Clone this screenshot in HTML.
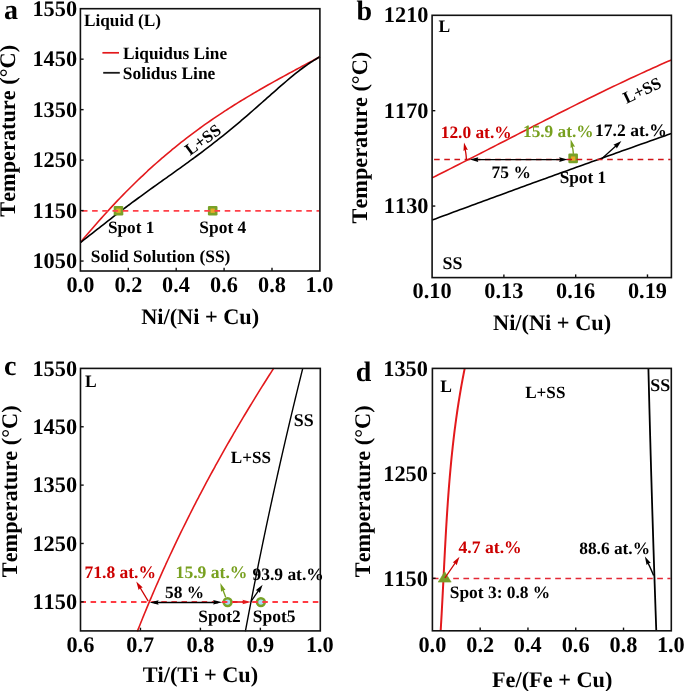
<!DOCTYPE html>
<html><head><meta charset="utf-8"><style>
html,body{margin:0;padding:0;background:#fff;}
svg{display:block;will-change:transform;}
text{font-family:"Liberation Serif", serif;font-weight:bold;font-kerning:none;text-rendering:geometricPrecision;}
</style></head><body>
<svg width="685" height="691" viewBox="0 0 685 691">
<rect width="685" height="691" fill="#fff"/>
<path d="M80.40,242.49 C80.91,241.89 82.42,240.07 83.43,238.86 C84.44,237.66 85.45,236.46 86.46,235.27 C87.47,234.08 88.48,232.89 89.49,231.71 C90.51,230.54 91.52,229.36 92.53,228.20 C93.54,227.03 94.55,225.87 95.56,224.71 C96.57,223.56 97.58,222.41 98.59,221.27 C99.60,220.13 100.61,218.99 101.62,217.86 C102.63,216.74 103.64,215.61 104.65,214.50 C105.66,213.38 106.67,212.27 107.68,211.17 C108.70,210.07 109.71,208.97 110.72,207.88 C111.73,206.79 112.74,205.71 113.75,204.63 C114.76,203.55 115.77,202.48 116.78,201.42 C117.79,200.35 118.80,199.30 119.81,198.25 C120.82,197.20 121.83,196.15 122.84,195.11 C123.85,194.08 124.86,193.05 125.87,192.02 C126.89,191.00 127.90,189.98 128.91,188.97 C129.92,187.96 130.93,186.95 131.94,185.95 C132.95,184.96 133.96,183.96 134.97,182.98 C135.98,181.99 136.99,181.01 138.00,180.04 C139.01,179.07 140.02,178.10 141.03,177.15 C142.04,176.19 143.05,175.23 144.06,174.29 C145.08,173.34 146.09,172.40 147.10,171.47 C148.11,170.53 149.12,169.61 150.13,168.69 C151.14,167.77 152.15,166.85 153.16,165.94 C154.17,165.03 155.18,164.13 156.19,163.24 C157.20,162.34 158.21,161.45 159.22,160.57 C160.23,159.69 161.24,158.81 162.25,157.94 C163.26,157.07 164.28,156.20 165.29,155.34 C166.30,154.48 167.31,153.63 168.32,152.78 C169.33,151.94 170.34,151.10 171.35,150.26 C172.36,149.43 173.37,148.60 174.38,147.77 C175.39,146.95 176.40,146.13 177.41,145.32 C178.42,144.51 179.43,143.70 180.44,142.90 C181.45,142.10 182.47,141.31 183.48,140.52 C184.49,139.73 185.50,138.95 186.51,138.17 C187.52,137.39 188.53,136.62 189.54,135.85 C190.55,135.08 191.56,134.32 192.57,133.56 C193.58,132.80 194.59,132.05 195.60,131.31 C196.61,130.56 197.62,129.82 198.63,129.08 C199.64,128.35 200.66,127.62 201.67,126.89 C202.68,126.16 203.69,125.44 204.70,124.72 C205.71,124.01 206.72,123.30 207.73,122.59 C208.74,121.88 209.75,121.18 210.76,120.48 C211.77,119.78 212.78,119.09 213.79,118.40 C214.80,117.71 215.81,117.03 216.82,116.35 C217.83,115.67 218.85,114.99 219.86,114.32 C220.87,113.65 221.88,112.98 222.89,112.32 C223.90,111.66 224.91,111.00 225.92,110.34 C226.93,109.69 227.94,109.04 228.95,108.39 C229.96,107.74 230.97,107.10 231.98,106.46 C232.99,105.82 234.00,105.19 235.01,104.55 C236.02,103.92 237.04,103.29 238.05,102.67 C239.06,102.04 240.07,101.42 241.08,100.80 C242.09,100.18 243.10,99.57 244.11,98.95 C245.12,98.34 246.13,97.73 247.14,97.13 C248.15,96.52 249.16,95.92 250.17,95.32 C251.18,94.72 252.19,94.12 253.20,93.53 C254.21,92.93 255.22,92.34 256.24,91.75 C257.25,91.16 258.26,90.58 259.27,89.99 C260.28,89.41 261.29,88.83 262.30,88.25 C263.31,87.67 264.32,87.09 265.33,86.52 C266.34,85.94 267.35,85.37 268.36,84.80 C269.37,84.23 270.38,83.66 271.39,83.09 C272.40,82.53 273.41,81.96 274.43,81.40 C275.44,80.84 276.45,80.28 277.46,79.72 C278.47,79.16 279.48,78.60 280.49,78.04 C281.50,77.49 282.51,76.93 283.52,76.38 C284.53,75.82 285.54,75.27 286.55,74.72 C287.56,74.17 288.57,73.62 289.58,73.07 C290.59,72.52 291.60,71.98 292.62,71.43 C293.63,70.88 294.64,70.34 295.65,69.79 C296.66,69.25 297.67,68.70 298.68,68.16 C299.69,67.62 300.70,67.07 301.71,66.53 C302.72,65.99 303.73,65.45 304.74,64.91 C305.75,64.36 306.76,63.82 307.77,63.28 C308.78,62.74 309.79,62.20 310.81,61.66 C311.82,61.12 312.83,60.58 313.84,60.04 C314.85,59.50 315.86,58.96 316.87,58.42 C317.88,57.88 319.39,57.07 319.90,56.80" stroke="#e3191c" stroke-width="1.6" fill="none" />
<path d="M80.40,242.50 C80.91,242.11 82.42,240.94 83.43,240.15 C84.44,239.37 85.45,238.58 86.46,237.79 C87.47,237.00 88.48,236.21 89.49,235.42 C90.51,234.63 91.52,233.84 92.53,233.04 C93.54,232.25 94.55,231.46 95.56,230.66 C96.57,229.87 97.58,229.08 98.59,228.29 C99.60,227.49 100.61,226.70 101.62,225.91 C102.63,225.12 103.64,224.33 104.65,223.54 C105.66,222.75 106.67,221.97 107.68,221.18 C108.70,220.40 109.71,219.61 110.72,218.83 C111.73,218.05 112.74,217.27 113.75,216.49 C114.76,215.71 115.77,214.94 116.78,214.17 C117.79,213.39 118.80,212.62 119.81,211.85 C120.82,211.08 121.83,210.32 122.84,209.55 C123.85,208.79 124.86,208.02 125.87,207.26 C126.89,206.50 127.90,205.75 128.91,204.99 C129.92,204.24 130.93,203.48 131.94,202.73 C132.95,201.98 133.96,201.23 134.97,200.49 C135.98,199.74 136.99,199.00 138.00,198.26 C139.01,197.52 140.02,196.78 141.03,196.04 C142.04,195.30 143.05,194.56 144.06,193.83 C145.08,193.10 146.09,192.36 147.10,191.63 C148.11,190.90 149.12,190.17 150.13,189.45 C151.14,188.72 152.15,187.99 153.16,187.27 C154.17,186.54 155.18,185.82 156.19,185.10 C157.20,184.37 158.21,183.65 159.22,182.93 C160.23,182.21 161.24,181.49 162.25,180.77 C163.26,180.05 164.28,179.33 165.29,178.61 C166.30,177.89 167.31,177.17 168.32,176.45 C169.33,175.73 170.34,175.01 171.35,174.29 C172.36,173.57 173.37,172.85 174.38,172.13 C175.39,171.40 176.40,170.68 177.41,169.96 C178.42,169.23 179.43,168.51 180.44,167.78 C181.45,167.06 182.47,166.33 183.48,165.60 C184.49,164.87 185.50,164.14 186.51,163.41 C187.52,162.68 188.53,161.94 189.54,161.21 C190.55,160.47 191.56,159.73 192.57,158.99 C193.58,158.25 194.59,157.50 195.60,156.76 C196.61,156.01 197.62,155.26 198.63,154.51 C199.64,153.76 200.66,153.00 201.67,152.24 C202.68,151.48 203.69,150.72 204.70,149.96 C205.71,149.19 206.72,148.42 207.73,147.65 C208.74,146.88 209.75,146.10 210.76,145.32 C211.77,144.54 212.78,143.76 213.79,142.97 C214.80,142.19 215.81,141.40 216.82,140.60 C217.83,139.81 218.85,139.01 219.86,138.20 C220.87,137.40 221.88,136.59 222.89,135.78 C223.90,134.97 224.91,134.15 225.92,133.33 C226.93,132.51 227.94,131.69 228.95,130.86 C229.96,130.03 230.97,129.20 231.98,128.37 C232.99,127.53 234.00,126.69 235.01,125.85 C236.02,125.00 237.04,124.15 238.05,123.30 C239.06,122.45 240.07,121.59 241.08,120.73 C242.09,119.87 243.10,119.01 244.11,118.14 C245.12,117.28 246.13,116.41 247.14,115.53 C248.15,114.66 249.16,113.79 250.17,112.91 C251.18,112.03 252.19,111.15 253.20,110.26 C254.21,109.38 255.22,108.49 256.24,107.60 C257.25,106.71 258.26,105.82 259.27,104.93 C260.28,104.04 261.29,103.15 262.30,102.25 C263.31,101.36 264.32,100.46 265.33,99.57 C266.34,98.67 267.35,97.78 268.36,96.88 C269.37,95.99 270.38,95.09 271.39,94.20 C272.40,93.31 273.41,92.42 274.43,91.53 C275.44,90.64 276.45,89.75 277.46,88.86 C278.47,87.98 279.48,87.10 280.49,86.22 C281.50,85.34 282.51,84.47 283.52,83.60 C284.53,82.73 285.54,81.87 286.55,81.01 C287.56,80.15 288.57,79.30 289.58,78.45 C290.59,77.61 291.60,76.77 292.62,75.94 C293.63,75.12 294.64,74.30 295.65,73.49 C296.66,72.68 297.67,71.88 298.68,71.09 C299.69,70.30 300.70,69.52 301.71,68.76 C302.72,68.00 303.73,67.25 304.74,66.51 C305.75,65.78 306.76,65.05 307.77,64.35 C308.78,63.64 309.79,62.95 310.81,62.29 C311.82,61.62 312.83,60.96 313.84,60.33 C314.85,59.70 315.86,59.09 316.87,58.50 C317.88,57.91 319.39,57.08 319.90,56.80" stroke="#000" stroke-width="1.6" fill="none" />
<rect x="113.70" y="205.90" width="9.60" height="9.60" fill="#78a228" rx="1.2"/>
<rect x="207.90" y="205.90" width="9.60" height="9.60" fill="#78a228" rx="1.2"/>
<rect x="116.35" y="208.55" width="4.30" height="4.30" fill="#e8a828"/>
<rect x="210.55" y="208.55" width="4.30" height="4.30" fill="#e8a828"/>
<line x1="81.90" y1="210.90" x2="319.10" y2="210.90" stroke="#ff4048" stroke-width="1.7" stroke-dasharray="5.6 4.6"/>
<rect x="80.40" y="8.70" width="239.50" height="262.30" fill="none" stroke="#111" stroke-width="1.6"/>
<text x="32.45" y="16.01" font-size="22.3" fill="#000" text-anchor="start" >1550</text>
<line x1="80.40" y1="59.17" x2="83.60" y2="59.17" stroke="#111" stroke-width="1.4" />
<text x="32.45" y="66.48" font-size="22.3" fill="#000" text-anchor="start" >1450</text>
<line x1="80.40" y1="109.64" x2="83.60" y2="109.64" stroke="#111" stroke-width="1.4" />
<text x="32.45" y="116.95" font-size="22.3" fill="#000" text-anchor="start" >1350</text>
<line x1="80.40" y1="160.11" x2="83.60" y2="160.11" stroke="#111" stroke-width="1.4" />
<text x="32.45" y="167.42" font-size="22.3" fill="#000" text-anchor="start" >1250</text>
<line x1="80.40" y1="210.58" x2="83.60" y2="210.58" stroke="#111" stroke-width="1.4" />
<text x="32.45" y="217.89" font-size="22.3" fill="#000" text-anchor="start" >1150</text>
<line x1="80.40" y1="261.05" x2="83.60" y2="261.05" stroke="#111" stroke-width="1.4" />
<text x="32.45" y="268.36" font-size="22.3" fill="#000" text-anchor="start" >1050</text>
<text x="66.46" y="292.40" font-size="22.3" fill="#000" text-anchor="start" >0.0</text>
<line x1="128.30" y1="271.00" x2="128.30" y2="267.80" stroke="#111" stroke-width="1.4" />
<text x="114.42" y="292.40" font-size="22.3" fill="#000" text-anchor="start" >0.2</text>
<line x1="176.20" y1="271.00" x2="176.20" y2="267.80" stroke="#111" stroke-width="1.4" />
<text x="162.04" y="292.40" font-size="22.3" fill="#000" text-anchor="start" >0.4</text>
<line x1="224.10" y1="271.00" x2="224.10" y2="267.80" stroke="#111" stroke-width="1.4" />
<text x="210.06" y="292.40" font-size="22.3" fill="#000" text-anchor="start" >0.6</text>
<line x1="272.00" y1="271.00" x2="272.00" y2="267.80" stroke="#111" stroke-width="1.4" />
<text x="258.01" y="292.40" font-size="22.3" fill="#000" text-anchor="start" >0.8</text>
<text x="305.49" y="292.40" font-size="22.3" fill="#000" text-anchor="start" >1.0</text>
<text x="141.17" y="323.80" font-size="22.3" fill="#000" text-anchor="start" >Ni/(Ni + Cu)</text>
<text transform="translate(15.30,216.65) rotate(-90)" x="0" y="0" font-size="22.3">Temperature (°C)</text>
<text x="4.10" y="19.30" font-size="28" fill="#000" text-anchor="start" >a</text>
<text x="84.01" y="25.60" font-size="17.22" fill="#000" text-anchor="start" >Liquid (L)</text>
<line x1="102.40" y1="52.80" x2="119.00" y2="52.80" stroke="#e3191c" stroke-width="1.7" />
<line x1="103.20" y1="72.80" x2="119.80" y2="72.80" stroke="#1a1a1a" stroke-width="1.8" />
<text x="123.00" y="59.30" font-size="17.27" fill="#000" text-anchor="start" >Liquidus Line</text>
<text x="122.77" y="78.80" font-size="17.44" fill="#000" text-anchor="start" >Solidus Line</text>
<text transform="translate(190.00,156.00) rotate(-36)" x="0" y="0" font-size="17.0" fill="#000">L+SS</text>
<text x="107.98" y="232.60" font-size="17.22" fill="#000" text-anchor="start" >Spot 1</text>
<text x="199.37" y="232.60" font-size="17.42" fill="#000" text-anchor="start" >Spot 4</text>
<text x="90.87" y="261.90" font-size="17.44" fill="#000" text-anchor="start" >Solid Solution (SS)</text>
<path d="M432.10,177.90 C433.12,177.39 436.19,175.85 438.24,174.83 C440.28,173.80 442.33,172.77 444.37,171.74 C446.42,170.71 448.46,169.68 450.51,168.64 C452.55,167.61 454.60,166.57 456.64,165.53 C458.69,164.50 460.73,163.46 462.78,162.41 C464.82,161.37 466.87,160.33 468.92,159.29 C470.96,158.24 473.01,157.20 475.05,156.15 C477.10,155.11 479.14,154.06 481.19,153.01 C483.23,151.97 485.28,150.92 487.32,149.87 C489.37,148.82 491.41,147.77 493.46,146.72 C495.50,145.67 497.55,144.62 499.59,143.57 C501.64,142.52 503.69,141.47 505.73,140.42 C507.78,139.37 509.82,138.32 511.87,137.27 C513.91,136.22 515.96,135.18 518.00,134.13 C520.05,133.08 522.09,132.03 524.14,130.98 C526.18,129.94 528.23,128.89 530.27,127.84 C532.32,126.80 534.36,125.75 536.41,124.71 C538.46,123.67 540.50,122.63 542.55,121.59 C544.59,120.55 546.64,119.51 548.68,118.47 C550.73,117.43 552.77,116.40 554.82,115.36 C556.86,114.33 558.91,113.30 560.95,112.27 C563.00,111.24 565.04,110.21 567.09,109.18 C569.14,108.16 571.18,107.13 573.23,106.11 C575.27,105.09 577.32,104.07 579.36,103.06 C581.41,102.04 583.45,101.03 585.50,100.02 C587.54,99.01 589.59,98.00 591.63,97.00 C593.68,95.99 595.72,94.99 597.77,93.99 C599.81,93.00 601.86,92.00 603.91,91.01 C605.95,90.02 608.00,89.03 610.04,88.05 C612.09,87.07 614.13,86.09 616.18,85.11 C618.22,84.14 620.27,83.16 622.31,82.20 C624.36,81.23 626.40,80.27 628.45,79.31 C630.49,78.35 632.54,77.39 634.58,76.45 C636.63,75.50 638.68,74.55 640.72,73.61 C642.77,72.67 644.81,71.74 646.86,70.81 C648.90,69.88 650.95,68.95 652.99,68.03 C655.04,67.11 657.08,66.20 659.13,65.29 C661.17,64.38 663.22,63.47 665.26,62.58 C667.31,61.68 670.38,60.35 671.40,59.90" stroke="#e3191c" stroke-width="1.6" fill="none" />
<path d="M432.10,220.09 C433.12,219.71 436.19,218.57 438.24,217.81 C440.28,217.05 442.33,216.29 444.37,215.54 C446.42,214.78 448.46,214.02 450.51,213.26 C452.55,212.50 454.60,211.75 456.64,210.99 C458.69,210.23 460.73,209.48 462.78,208.72 C464.82,207.97 466.87,207.21 468.92,206.46 C470.96,205.70 473.01,204.95 475.05,204.19 C477.10,203.44 479.14,202.69 481.19,201.94 C483.23,201.18 485.28,200.43 487.32,199.68 C489.37,198.93 491.41,198.18 493.46,197.43 C495.50,196.68 497.55,195.93 499.59,195.18 C501.64,194.43 503.69,193.68 505.73,192.93 C507.78,192.18 509.82,191.44 511.87,190.69 C513.91,189.94 515.96,189.20 518.00,188.45 C520.05,187.70 522.09,186.96 524.14,186.21 C526.18,185.47 528.23,184.72 530.27,183.98 C532.32,183.24 534.36,182.49 536.41,181.75 C538.46,181.01 540.50,180.27 542.55,179.52 C544.59,178.78 546.64,178.04 548.68,177.30 C550.73,176.56 552.77,175.82 554.82,175.08 C556.86,174.34 558.91,173.60 560.95,172.86 C563.00,172.12 565.04,171.39 567.09,170.65 C569.14,169.91 571.18,169.17 573.23,168.44 C575.27,167.70 577.32,166.97 579.36,166.23 C581.41,165.49 583.45,164.76 585.50,164.03 C587.54,163.29 589.59,162.56 591.63,161.82 C593.68,161.09 595.72,160.36 597.77,159.63 C599.81,158.89 601.86,158.16 603.91,157.43 C605.95,156.70 608.00,155.97 610.04,155.24 C612.09,154.51 614.13,153.78 616.18,153.05 C618.22,152.32 620.27,151.59 622.31,150.86 C624.36,150.14 626.40,149.41 628.45,148.68 C630.49,147.96 632.54,147.23 634.58,146.50 C636.63,145.78 638.68,145.05 640.72,144.33 C642.77,143.60 644.81,142.88 646.86,142.15 C648.90,141.43 650.95,140.71 652.99,139.99 C655.04,139.26 657.08,138.54 659.13,137.82 C661.17,137.10 663.22,136.38 665.26,135.66 C667.31,134.94 670.38,133.86 671.40,133.50" stroke="#000" stroke-width="1.6" fill="none" />
<rect x="568.35" y="153.60" width="9.60" height="9.60" fill="#78a228" rx="1.2"/>
<rect x="571.05" y="156.45" width="4.30" height="4.30" fill="#e8a828"/>
<line x1="434.10" y1="159.60" x2="670.60" y2="159.60" stroke="#d01418" stroke-width="1.5" stroke-dasharray="5.6 4.58"/>
<line x1="474.00" y1="159.60" x2="562.00" y2="159.60" stroke="#000" stroke-width="1.3" />
<path d="M469.80,159.60 L478.30,157.20 L477.45,159.60 L478.30,162.00 Z" fill="#000"/>
<path d="M567.70,159.60 L559.20,162.00 L560.05,159.60 L559.20,157.20 Z" fill="#000"/>
<path d="M466.40,159.30 Q466.00,152.00 464.81,148.08" stroke="#cc0000" stroke-width="1.3" fill="none" />
<path d="M464.00,142.40 L467.88,149.97 L465.51,149.62 L463.47,150.89 Z" fill="#cc0000"/>
<path d="M573.40,153.90 Q573.00,148.00 571.71,145.04" stroke="#78a020" stroke-width="1.3" fill="none" />
<path d="M570.60,139.20 L575.06,146.80 L572.61,146.58 L570.62,148.01 Z" fill="#78a020"/>
<line x1="601.70" y1="158.80" x2="616.99" y2="144.99" stroke="#000" stroke-width="1.3" />
<path d="M621.40,141.00 L616.77,148.55 L615.72,146.13 L613.42,144.84 Z" fill="#000"/>
<rect x="432.10" y="15.30" width="239.30" height="262.30" fill="none" stroke="#111" stroke-width="1.6"/>
<text x="383.85" y="21.61" font-size="22.3" fill="#000" text-anchor="start" >1210</text>
<line x1="432.10" y1="110.68" x2="435.30" y2="110.68" stroke="#111" stroke-width="1.4" />
<text x="383.85" y="117.99" font-size="22.3" fill="#000" text-anchor="start" >1170</text>
<line x1="432.10" y1="206.06" x2="435.30" y2="206.06" stroke="#111" stroke-width="1.4" />
<text x="383.85" y="213.37" font-size="22.3" fill="#000" text-anchor="start" >1130</text>
<text x="412.59" y="298.30" font-size="22.3" fill="#000" text-anchor="start" >0.10</text>
<line x1="503.89" y1="277.60" x2="503.89" y2="274.40" stroke="#111" stroke-width="1.4" />
<text x="484.33" y="298.30" font-size="22.3" fill="#000" text-anchor="start" >0.13</text>
<line x1="575.68" y1="277.60" x2="575.68" y2="274.40" stroke="#111" stroke-width="1.4" />
<text x="556.07" y="298.30" font-size="22.3" fill="#000" text-anchor="start" >0.16</text>
<line x1="647.47" y1="277.60" x2="647.47" y2="274.40" stroke="#111" stroke-width="1.4" />
<text x="627.94" y="298.30" font-size="22.3" fill="#000" text-anchor="start" >0.19</text>
<text x="493.07" y="330.40" font-size="22.3" fill="#000" text-anchor="start" >Ni/(Ni + Cu)</text>
<text transform="translate(367.30,223.45) rotate(-90)" x="0" y="0" font-size="22.3">Temperature (°C)</text>
<text x="356.44" y="19.90" font-size="28" fill="#000" text-anchor="start" >b</text>
<text x="438.50" y="31.70" font-size="17.5" fill="#000" text-anchor="start" >L</text>
<text transform="translate(626.60,104.00) rotate(-25.5)" x="0" y="0" font-size="17.0" fill="#000">L+SS</text>
<text x="440.71" y="137.70" font-size="17.37" fill="#cc0000" text-anchor="start" >12.0 at.%</text>
<text x="523.02" y="137.20" font-size="17.29" fill="#78a020" text-anchor="start" >15.9 at.%</text>
<text x="595.09" y="136.40" font-size="17.55" fill="#000" text-anchor="start" >17.2 at.%</text>
<text x="491.60" y="177.50" font-size="17.44" fill="#000" text-anchor="start" >75 %</text>
<text x="559.68" y="182.50" font-size="17.26" fill="#000" text-anchor="start" >Spot 1</text>
<text x="442.55" y="269.00" font-size="17.9" fill="#000" text-anchor="start" >SS</text>
<path d="M273.80,368.10 C273.33,368.84 271.89,371.08 270.94,372.56 C269.99,374.05 269.04,375.54 268.09,377.03 C267.15,378.51 266.21,380.00 265.27,381.49 C264.33,382.98 263.39,384.46 262.46,385.95 C261.53,387.44 260.60,388.93 259.67,390.41 C258.75,391.90 257.82,393.39 256.90,394.88 C255.98,396.36 255.07,397.85 254.15,399.34 C253.24,400.83 252.33,402.31 251.42,403.80 C250.52,405.29 249.61,406.78 248.71,408.26 C247.81,409.75 246.91,411.24 246.02,412.73 C245.13,414.21 244.23,415.70 243.35,417.19 C242.46,418.68 241.57,420.16 240.69,421.65 C239.81,423.14 238.93,424.63 238.06,426.12 C237.18,427.60 236.31,429.09 235.44,430.58 C234.57,432.07 233.70,433.55 232.84,435.04 C231.98,436.53 231.12,438.02 230.26,439.50 C229.41,440.99 228.55,442.48 227.70,443.97 C226.85,445.45 226.01,446.94 225.16,448.43 C224.32,449.92 223.48,451.40 222.64,452.89 C221.80,454.38 220.97,455.87 220.14,457.35 C219.31,458.84 218.48,460.33 217.65,461.82 C216.83,463.30 216.01,464.79 215.19,466.28 C214.37,467.77 213.56,469.25 212.74,470.74 C211.93,472.23 211.12,473.72 210.32,475.21 C209.51,476.69 208.71,478.18 207.91,479.67 C207.11,481.16 206.31,482.64 205.52,484.13 C204.73,485.62 203.94,487.11 203.15,488.59 C202.36,490.08 201.58,491.57 200.80,493.06 C200.02,494.54 199.24,496.03 198.47,497.52 C197.69,499.01 196.92,500.49 196.15,501.98 C195.39,503.47 194.62,504.96 193.86,506.44 C193.10,507.93 192.34,509.42 191.59,510.91 C190.83,512.39 190.08,513.88 189.33,515.37 C188.58,516.86 187.84,518.34 187.09,519.83 C186.35,521.32 185.61,522.81 184.87,524.29 C184.14,525.78 183.41,527.27 182.68,528.76 C181.95,530.25 181.22,531.73 180.50,533.22 C179.77,534.71 179.05,536.20 178.33,537.68 C177.62,539.17 176.90,540.66 176.19,542.15 C175.48,543.63 174.77,545.12 174.07,546.61 C173.36,548.10 172.66,549.58 171.97,551.07 C171.27,552.56 170.57,554.05 169.88,555.53 C169.19,557.02 168.50,558.51 167.81,560.00 C167.13,561.48 166.45,562.97 165.77,564.46 C165.09,565.95 164.41,567.43 163.74,568.92 C163.07,570.41 162.40,571.90 161.73,573.38 C161.06,574.87 160.40,576.36 159.74,577.85 C159.08,579.34 158.42,580.82 157.77,582.31 C157.11,583.80 156.46,585.29 155.81,586.77 C155.17,588.26 154.52,589.75 153.88,591.24 C153.24,592.72 152.60,594.21 151.97,595.70 C151.33,597.19 150.70,598.67 150.07,600.16 C149.44,601.65 148.82,603.14 148.19,604.62 C147.57,606.11 146.95,607.60 146.34,609.09 C145.72,610.57 145.11,612.06 144.50,613.55 C143.89,615.04 143.28,616.52 142.68,618.01 C142.07,619.50 141.47,620.99 140.88,622.47 C140.28,623.96 139.69,625.45 139.09,626.94 C138.50,628.42 137.63,630.66 137.33,631.40" stroke="#e3191c" stroke-width="1.6" fill="none" />
<path d="M302.81,368.10 C302.53,369.23 301.68,372.60 301.13,374.85 C300.57,377.10 300.01,379.35 299.46,381.60 C298.90,383.85 298.35,386.10 297.80,388.35 C297.25,390.60 296.70,392.85 296.15,395.11 C295.61,397.36 295.06,399.61 294.52,401.86 C293.97,404.11 293.43,406.36 292.89,408.61 C292.35,410.86 291.81,413.11 291.28,415.36 C290.74,417.61 290.21,419.86 289.67,422.11 C289.14,424.36 288.61,426.61 288.08,428.86 C287.55,431.11 287.02,433.36 286.50,435.61 C285.97,437.86 285.45,440.11 284.93,442.36 C284.41,444.61 283.89,446.86 283.37,449.12 C282.85,451.37 282.33,453.62 281.82,455.87 C281.31,458.12 280.79,460.37 280.28,462.62 C279.77,464.87 279.26,467.12 278.75,469.37 C278.25,471.62 277.74,473.87 277.24,476.12 C276.73,478.37 276.23,480.62 275.73,482.87 C275.23,485.12 274.73,487.37 274.24,489.62 C273.74,491.87 273.25,494.12 272.75,496.37 C272.26,498.62 271.77,500.88 271.28,503.13 C270.79,505.38 270.30,507.63 269.82,509.88 C269.33,512.13 268.85,514.38 268.37,516.63 C267.89,518.88 267.41,521.13 266.93,523.38 C266.45,525.63 265.97,527.88 265.50,530.13 C265.02,532.38 264.55,534.63 264.08,536.88 C263.61,539.13 263.14,541.38 262.67,543.63 C262.20,545.88 261.74,548.13 261.28,550.38 C260.81,552.64 260.35,554.89 259.89,557.14 C259.43,559.39 258.97,561.64 258.51,563.89 C258.06,566.14 257.60,568.39 257.15,570.64 C256.70,572.89 256.25,575.14 255.80,577.39 C255.35,579.64 254.90,581.89 254.45,584.14 C254.01,586.39 253.57,588.64 253.12,590.89 C252.68,593.14 252.24,595.39 251.80,597.64 C251.36,599.89 250.93,602.14 250.49,604.39 C250.06,606.65 249.63,608.90 249.19,611.15 C248.76,613.40 248.33,615.65 247.91,617.90 C247.48,620.15 247.05,622.40 246.63,624.65 C246.21,626.90 245.57,630.27 245.36,631.40" stroke="#000" stroke-width="1.4" fill="none" />
<circle cx="227.60" cy="602.10" r="5.20" fill="#78a228"/>
<circle cx="260.90" cy="602.10" r="5.20" fill="#78a228"/>
<circle cx="227.60" cy="602.10" r="2.60" fill="#a8dcf8"/>
<circle cx="260.90" cy="602.10" r="2.60" fill="#a8dcf8"/>
<line x1="80.50" y1="602.00" x2="319.50" y2="602.00" stroke="#ff3a42" stroke-width="1.8" stroke-dasharray="5.5 4.6"/>
<line x1="154.00" y1="602.50" x2="218.00" y2="602.50" stroke="#000" stroke-width="1.3" />
<path d="M149.60,602.50 L158.60,600.20 L157.70,602.50 L158.60,604.80 Z" fill="#000"/>
<path d="M222.20,602.30 L213.20,604.60 L214.10,602.30 L213.20,600.00 Z" fill="#000"/>
<line x1="233.00" y1="602.00" x2="246.50" y2="602.00" stroke="#e3191c" stroke-width="1.6" />
<path d="M251.00,602.00 L242.50,604.30 L243.35,602.00 L242.50,599.70 Z" fill="#e3191c"/>
<line x1="148.20" y1="601.10" x2="139.38" y2="586.49" stroke="#cc0000" stroke-width="1.3" />
<path d="M136.30,581.40 L142.75,587.43 L140.26,587.95 L138.64,589.92 Z" fill="#cc0000"/>
<line x1="225.70" y1="597.30" x2="222.40" y2="588.57" stroke="#78a020" stroke-width="1.3" />
<path d="M220.30,583.00 L225.55,590.10 L223.00,590.16 L221.06,591.80 Z" fill="#78a020"/>
<line x1="251.00" y1="601.50" x2="259.22" y2="589.60" stroke="#000" stroke-width="1.3" />
<path d="M262.60,584.70 L259.83,593.12 L258.25,591.00 L255.71,590.27 Z" fill="#000"/>
<rect x="80.50" y="368.40" width="239.80" height="262.50" fill="none" stroke="#111" stroke-width="1.6"/>
<text x="32.45" y="375.71" font-size="22.3" fill="#000" text-anchor="start" >1550</text>
<line x1="80.50" y1="426.76" x2="83.70" y2="426.76" stroke="#111" stroke-width="1.4" />
<text x="32.45" y="434.06" font-size="22.3" fill="#000" text-anchor="start" >1450</text>
<line x1="80.50" y1="485.11" x2="83.70" y2="485.11" stroke="#111" stroke-width="1.4" />
<text x="32.45" y="492.42" font-size="22.3" fill="#000" text-anchor="start" >1350</text>
<line x1="80.50" y1="543.47" x2="83.70" y2="543.47" stroke="#111" stroke-width="1.4" />
<text x="32.45" y="550.77" font-size="22.3" fill="#000" text-anchor="start" >1250</text>
<line x1="80.50" y1="601.82" x2="83.70" y2="601.82" stroke="#111" stroke-width="1.4" />
<text x="32.45" y="609.13" font-size="22.3" fill="#000" text-anchor="start" >1150</text>
<text x="66.46" y="652.10" font-size="22.3" fill="#000" text-anchor="start" >0.6</text>
<line x1="140.45" y1="630.90" x2="140.45" y2="627.70" stroke="#111" stroke-width="1.4" />
<text x="126.36" y="652.10" font-size="22.3" fill="#000" text-anchor="start" >0.7</text>
<line x1="200.40" y1="630.90" x2="200.40" y2="627.70" stroke="#111" stroke-width="1.4" />
<text x="186.41" y="652.10" font-size="22.3" fill="#000" text-anchor="start" >0.8</text>
<line x1="260.35" y1="630.90" x2="260.35" y2="627.70" stroke="#111" stroke-width="1.4" />
<text x="246.39" y="652.10" font-size="22.3" fill="#000" text-anchor="start" >0.9</text>
<text x="305.89" y="652.10" font-size="22.3" fill="#000" text-anchor="start" >1.0</text>
<text x="142.64" y="681.90" font-size="22.3" fill="#000" text-anchor="start" >Ti/(Ti + Cu)</text>
<text transform="translate(17.20,577.15) rotate(-90)" x="0" y="0" font-size="22.3">Temperature (°C)</text>
<text x="3.94" y="374.60" font-size="28" fill="#000" text-anchor="start" >c</text>
<text x="85.00" y="387.00" font-size="17.5" fill="#000" text-anchor="start" >L</text>
<text x="293.85" y="426.20" font-size="17.9" fill="#000" text-anchor="start" >SS</text>
<text x="230.81" y="463.20" font-size="17.08" fill="#000" text-anchor="start" >L+SS</text>
<text x="84.50" y="577.50" font-size="17.5" fill="#cc0000" text-anchor="start" >71.8 at.%</text>
<text x="165.11" y="597.70" font-size="17.34" fill="#000" text-anchor="start" >58 %</text>
<text x="175.59" y="577.90" font-size="17.6" fill="#78a020" text-anchor="start" >15.9 at.%</text>
<text x="252.42" y="579.50" font-size="17.49" fill="#000" text-anchor="start" >93.9 at.%</text>
<text x="198.28" y="621.60" font-size="17.37" fill="#000" text-anchor="start" >Spot2</text>
<text x="252.67" y="621.60" font-size="17.53" fill="#000" text-anchor="start" >Spot5</text>
<path d="M464.78,368.10 C464.63,368.84 464.18,371.07 463.88,372.56 C463.59,374.04 463.30,375.53 463.02,377.01 C462.73,378.50 462.45,379.98 462.18,381.47 C461.91,382.95 461.64,384.44 461.37,385.92 C461.10,387.41 460.84,388.89 460.59,390.38 C460.33,391.86 460.08,393.35 459.83,394.84 C459.58,396.32 459.34,397.81 459.10,399.29 C458.86,400.78 458.62,402.26 458.39,403.75 C458.16,405.23 457.93,406.72 457.71,408.20 C457.48,409.69 457.26,411.17 457.05,412.66 C456.83,414.14 456.62,415.63 456.41,417.12 C456.20,418.60 456.00,420.09 455.80,421.57 C455.60,423.06 455.40,424.54 455.21,426.03 C455.01,427.51 454.82,429.00 454.63,430.48 C454.45,431.97 454.26,433.45 454.08,434.94 C453.90,436.42 453.73,437.91 453.55,439.39 C453.38,440.88 453.21,442.37 453.04,443.85 C452.87,445.34 452.71,446.82 452.55,448.31 C452.39,449.79 452.23,451.28 452.07,452.76 C451.92,454.25 451.76,455.73 451.61,457.22 C451.46,458.70 451.32,460.19 451.17,461.67 C451.03,463.16 450.89,464.65 450.75,466.13 C450.61,467.62 450.47,469.10 450.34,470.59 C450.21,472.07 450.07,473.56 449.94,475.04 C449.82,476.53 449.69,478.01 449.56,479.50 C449.44,480.98 449.32,482.47 449.20,483.95 C449.08,485.44 448.96,486.92 448.84,488.41 C448.73,489.90 448.61,491.38 448.50,492.87 C448.39,494.35 448.28,495.84 448.17,497.32 C448.06,498.81 447.96,500.29 447.85,501.78 C447.75,503.26 447.65,504.75 447.55,506.23 C447.44,507.72 447.35,509.20 447.25,510.69 C447.15,512.18 447.05,513.66 446.96,515.15 C446.86,516.63 446.77,518.12 446.68,519.60 C446.59,521.09 446.50,522.57 446.41,524.06 C446.32,525.54 446.23,527.03 446.14,528.51 C446.05,530.00 445.97,531.48 445.88,532.97 C445.80,534.45 445.71,535.94 445.63,537.43 C445.55,538.91 445.47,540.40 445.38,541.88 C445.30,543.37 445.22,544.85 445.14,546.34 C445.06,547.82 444.98,549.31 444.90,550.79 C444.83,552.28 444.75,553.76 444.67,555.25 C444.59,556.73 444.52,558.22 444.44,559.71 C444.36,561.19 444.29,562.68 444.21,564.16 C444.14,565.65 444.06,567.13 443.99,568.62 C443.91,570.10 443.84,571.59 443.76,573.07 C443.69,574.56 443.61,576.04 443.54,577.53 C443.46,579.01 443.39,580.50 443.31,581.98 C443.24,583.47 443.16,584.96 443.08,586.44 C443.01,587.93 442.93,589.41 442.86,590.90 C442.78,592.38 442.71,593.87 442.63,595.35 C442.55,596.84 442.48,598.32 442.40,599.81 C442.32,601.29 442.24,602.78 442.16,604.26 C442.08,605.75 442.00,607.24 441.92,608.72 C441.84,610.21 441.76,611.69 441.68,613.18 C441.60,614.66 441.52,616.15 441.43,617.63 C441.35,619.12 441.27,620.60 441.18,622.09 C441.09,623.57 441.01,625.06 440.92,626.54 C440.83,628.03 440.70,630.26 440.65,631.00" stroke="#e3191c" stroke-width="2.0" fill="none" />
<path d="M648.40,368.10 C648.43,369.22 648.51,372.59 648.56,374.84 C648.62,377.09 648.68,379.34 648.73,381.58 C648.79,383.83 648.84,386.08 648.90,388.32 C648.96,390.57 649.01,392.82 649.07,395.06 C649.13,397.31 649.19,399.56 649.25,401.81 C649.30,404.05 649.36,406.30 649.42,408.55 C649.48,410.79 649.54,413.04 649.60,415.29 C649.66,417.53 649.72,419.78 649.78,422.03 C649.84,424.28 649.90,426.52 649.96,428.77 C650.02,431.02 650.08,433.26 650.14,435.51 C650.20,437.76 650.26,440.00 650.33,442.25 C650.39,444.50 650.45,446.75 650.51,448.99 C650.57,451.24 650.64,453.49 650.70,455.73 C650.76,457.98 650.83,460.23 650.89,462.47 C650.96,464.72 651.02,466.97 651.08,469.22 C651.15,471.46 651.21,473.71 651.28,475.96 C651.34,478.20 651.41,480.45 651.48,482.70 C651.54,484.94 651.61,487.19 651.67,489.44 C651.74,491.69 651.81,493.93 651.87,496.18 C651.94,498.43 652.01,500.67 652.08,502.92 C652.14,505.17 652.21,507.41 652.28,509.66 C652.35,511.91 652.42,514.16 652.49,516.40 C652.56,518.65 652.63,520.90 652.70,523.14 C652.77,525.39 652.84,527.64 652.91,529.88 C652.98,532.13 653.05,534.38 653.12,536.63 C653.19,538.87 653.26,541.12 653.33,543.37 C653.40,545.61 653.48,547.86 653.55,550.11 C653.62,552.35 653.69,554.60 653.77,556.85 C653.84,559.10 653.91,561.34 653.99,563.59 C654.06,565.84 654.13,568.08 654.21,570.33 C654.28,572.58 654.36,574.82 654.43,577.07 C654.51,579.32 654.58,581.57 654.66,583.81 C654.73,586.06 654.81,588.31 654.89,590.55 C654.96,592.80 655.04,595.05 655.12,597.29 C655.19,599.54 655.27,601.79 655.35,604.04 C655.42,606.28 655.50,608.53 655.58,610.78 C655.66,613.02 655.74,615.27 655.82,617.52 C655.90,619.76 655.97,622.01 656.05,624.26 C656.13,626.51 656.25,629.88 656.29,631.00" stroke="#000" stroke-width="1.8" fill="none" />
<line x1="432.80" y1="578.50" x2="670.50" y2="578.50" stroke="#e32836" stroke-width="1.4" stroke-dasharray="5.7 4.5"/>
<path d="M444.70,571.70 L451.20,582.10 L438.20,582.10 Z" fill="#789e28" stroke="#789e28" stroke-width="0.6" stroke-linejoin="round"/>
<line x1="444.90" y1="578.00" x2="456.13" y2="561.70" stroke="#cc0000" stroke-width="1.3" />
<path d="M459.50,556.80 L456.66,565.16 L455.16,563.10 L452.70,562.44 Z" fill="#cc0000"/>
<path d="M653.60,575.60 Q650.00,566.50 647.32,561.88" stroke="#000" stroke-width="1.4" fill="none" />
<path d="M644.90,556.60 L650.83,562.88 L648.32,563.24 L646.57,565.08 Z" fill="#000"/>
<rect x="432.40" y="368.40" width="238.90" height="262.40" fill="none" stroke="#111" stroke-width="1.6"/>
<text x="383.25" y="375.71" font-size="22.3" fill="#000" text-anchor="start" >1350</text>
<line x1="432.40" y1="473.36" x2="435.60" y2="473.36" stroke="#111" stroke-width="1.4" />
<text x="383.25" y="480.67" font-size="22.3" fill="#000" text-anchor="start" >1250</text>
<line x1="432.40" y1="578.32" x2="435.60" y2="578.32" stroke="#111" stroke-width="1.4" />
<text x="383.25" y="585.63" font-size="22.3" fill="#000" text-anchor="start" >1150</text>
<text x="418.46" y="652.00" font-size="22.3" fill="#000" text-anchor="start" >0.0</text>
<line x1="480.18" y1="630.80" x2="480.18" y2="627.60" stroke="#111" stroke-width="1.4" />
<text x="466.30" y="652.00" font-size="22.3" fill="#000" text-anchor="start" >0.2</text>
<line x1="527.96" y1="630.80" x2="527.96" y2="627.60" stroke="#111" stroke-width="1.4" />
<text x="513.80" y="652.00" font-size="22.3" fill="#000" text-anchor="start" >0.4</text>
<line x1="575.74" y1="630.80" x2="575.74" y2="627.60" stroke="#111" stroke-width="1.4" />
<text x="561.70" y="652.00" font-size="22.3" fill="#000" text-anchor="start" >0.6</text>
<line x1="623.52" y1="630.80" x2="623.52" y2="627.60" stroke="#111" stroke-width="1.4" />
<text x="609.53" y="652.00" font-size="22.3" fill="#000" text-anchor="start" >0.8</text>
<text x="656.89" y="652.00" font-size="22.3" fill="#000" text-anchor="start" >1.0</text>
<text x="491.97" y="686.60" font-size="22.3" fill="#000" text-anchor="start" >Fe/(Fe + Cu)</text>
<text transform="translate(369.70,577.15) rotate(-90)" x="0" y="0" font-size="22.3">Temperature (°C)</text>
<text x="355.77" y="380.60" font-size="28" fill="#000" text-anchor="start" >d</text>
<text x="440.20" y="391.90" font-size="17.5" fill="#000" text-anchor="start" >L</text>
<text x="525.21" y="397.70" font-size="17.12" fill="#000" text-anchor="start" >L+SS</text>
<text x="650.25" y="391.40" font-size="17.9" fill="#000" text-anchor="start" >SS</text>
<text x="458.56" y="552.70" font-size="17.61" fill="#cc0000" text-anchor="start" >4.7 at.%</text>
<text x="449.77" y="597.70" font-size="17.4" fill="#000" text-anchor="start" >Spot 3: 0.8 %</text>
<text x="579.22" y="553.90" font-size="17.34" fill="#000" text-anchor="start" >88.6 at.%</text>
</svg>
</body></html>
